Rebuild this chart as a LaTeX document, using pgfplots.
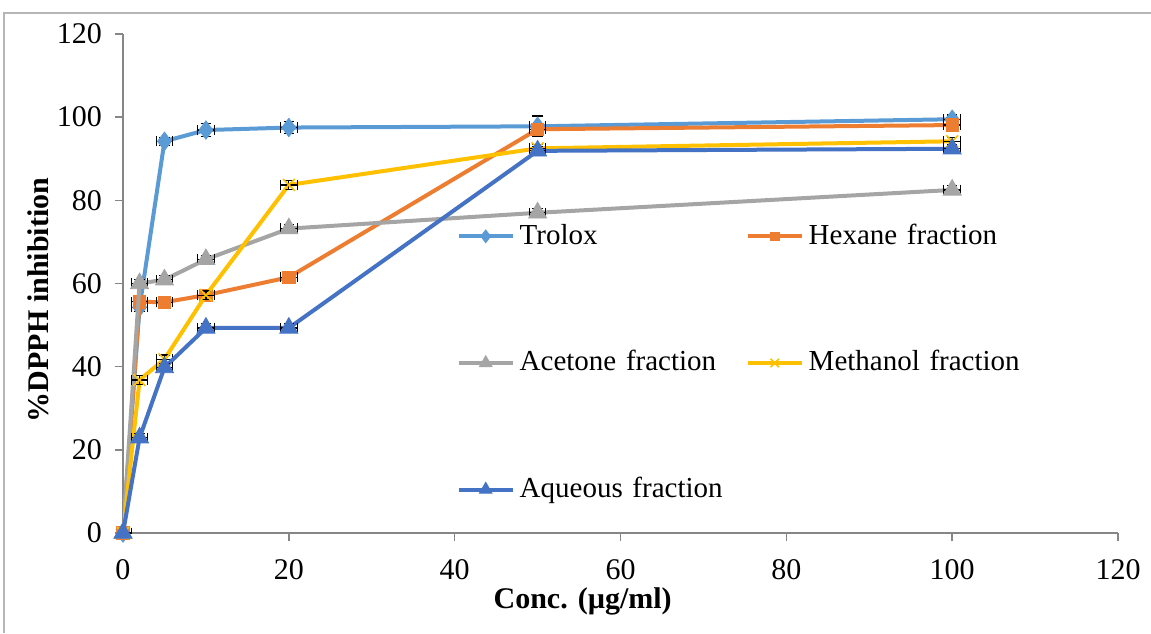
\documentclass[border=0pt]{standalone}
\usepackage{fontspec}
\setmainfont{Liberation Serif}
\usepackage{pgfplots}
\usepackage{pgfplotstable}
\pgfplotsset{compat=1.18}
\definecolor{ctrolox}{RGB}{91,155,213}
\definecolor{chex}{RGB}{237,125,49}
\definecolor{cace}{RGB}{165,165,165}
\definecolor{cmeth}{RGB}{255,192,0}
\definecolor{caq}{RGB}{68,114,196}
\definecolor{axgray}{RGB}{134,134,134}

\pgfplotstableread{
x y ex ey
0 0 1 0.5
2 54.3 1 1
5 94.2 1 1
10 96.9 1 1.5
20 97.5 1 1.5
50 97.8 1 2.5
100 99.5 1 1
}\trolox
\pgfplotstableread{
x y ex ey
0 0 1 0.5
2 55.6 1 1
5 55.5 1 1
10 57.2 1 1
20 61.5 1 1
50 97.1 1 1
100 98.1 1 1
}\hexane
\pgfplotstableread{
x y ex ey
0 0 1 0.5
2 60.0 1 1
5 60.9 1 1
10 65.8 1 1
20 73.2 1 1
50 77.0 1 1
100 82.5 1 1
}\acetone
\pgfplotstableread{
x y ex ey
0 0 1 0.5
2 36.8 1 1
5 41.8 1 1
10 57.2 1 1
20 83.7 1 1
50 92.5 1 1
100 94.2 1 1
}\methanol
\pgfplotstableread{
x y ex ey
0 0 1 0.5
2 22.9 1 1
5 39.8 1 1
10 49.3 1 1
20 49.3 1 1
50 91.9 1 1
100 92.4 1 1
}\aqueous

\pgfplotsset{
  myerr/.style={
    error bars/x dir=both, error bars/x explicit,
    error bars/y dir=both, error bars/y explicit,
    error bars/error bar style={black, line width=0.6pt, solid},
    error bars/error mark options={black, mark size=2.6pt, line width=0.6pt, rotate=90}
  }
}

\begin{document}
\begin{tikzpicture}[x=1pt,y=1pt]
\useasboundingbox (0,0) rectangle (575.5,316.5);
\draw[axgray!60, line width=0.7pt] (2,0) -- (2,310) -- (575.5,310);
\begin{axis}[
  at={(61.5pt,50pt)}, anchor=south west,
  scale only axis, width=497.5pt, height=249.5pt,
  xmin=0, xmax=120, ymin=0, ymax=120,
  xtick={0,20,...,120}, ytick={0,20,...,120},
  axis lines*=left,
  axis line style={axgray, line width=0.75pt, -},
  tick align=outside,
  major tick length=4pt,
  tick style={axgray, line width=0.75pt},
  /pgf/number format/assume math mode=true,
  tick label style={font=\fontsize{15}{18}\selectfont, black},
  yticklabel style={xshift=-3pt},
  xticklabel style={yshift=-5.5pt},
  label style={font=\bfseries\fontsize{15}{18}\selectfont},
  xlabel={Conc. (µg/ml)},
  ylabel={\%DPPH inhibition},
  xlabel style={at={(axis description cs:0.462,0)}, anchor=center, yshift=-34pt},
  ylabel style={at={(axis description cs:0,0.467)}, anchor=center, yshift=42.5pt},
  clip mode=individual,
  legend columns=2,
  legend cell align=left,
  legend style={draw=none, fill=none, inner sep=0pt,
    at={(axis cs:40.2,74.8)}, anchor=north west,
    font=\fontsize{14.5}{17}\selectfont,
    row sep=49.3pt,
    nodes={inner sep=0pt, text height=11pt, text depth=3pt, text width=110pt, align=left},
    /tikz/every odd column/.append style={column sep=2.5pt},
    /tikz/every even column/.append style={column sep=3pt}},
  legend image code/.code={\draw[mark repeat=2,mark phase=2,#1, every mark/.append style={scale=0.7}] plot coordinates {(0pt,0pt) (13.5pt,0pt) (27pt,0pt)};},
]
\addplot[myerr, color=ctrolox, line width=2pt, mark=diamond*, mark size=4.6pt, mark options={solid, fill=ctrolox, line width=0.4pt}] table[x=x, y=y, x error=ex, y error=ey] {\trolox};
\addlegendentry{Trolox}
\addplot[myerr, color=chex, line width=2pt, mark=square*, mark size=3.1pt, mark options={solid, fill=chex, line width=0.4pt}] table[x=x, y=y, x error=ex, y error=ey] {\hexane};
\addlegendentry{Hexane fraction}
\addplot[myerr, color=cace, line width=2pt, mark=triangle*, mark size=5.2pt, mark options={solid, fill=cace, line width=0.4pt}] table[x=x, y=y, x error=ex, y error=ey] {\acetone};
\addlegendentry{Acetone fraction}
\addplot[myerr, color=cmeth, line width=2pt, mark=x, mark size=4.2pt, mark options={solid, line width=0.8pt}] table[x=x, y=y, x error=ex, y error=ey] {\methanol};
\addlegendentry{Methanol fraction}
\addplot[myerr, color=caq, line width=2pt, mark=triangle*, mark size=5.2pt, mark options={solid, fill=caq, line width=0.4pt}] table[x=x, y=y, x error=ex, y error=ey] {\aqueous};
\addlegendentry{Aqueous fraction}
\end{axis}
\end{tikzpicture}
\end{document}
